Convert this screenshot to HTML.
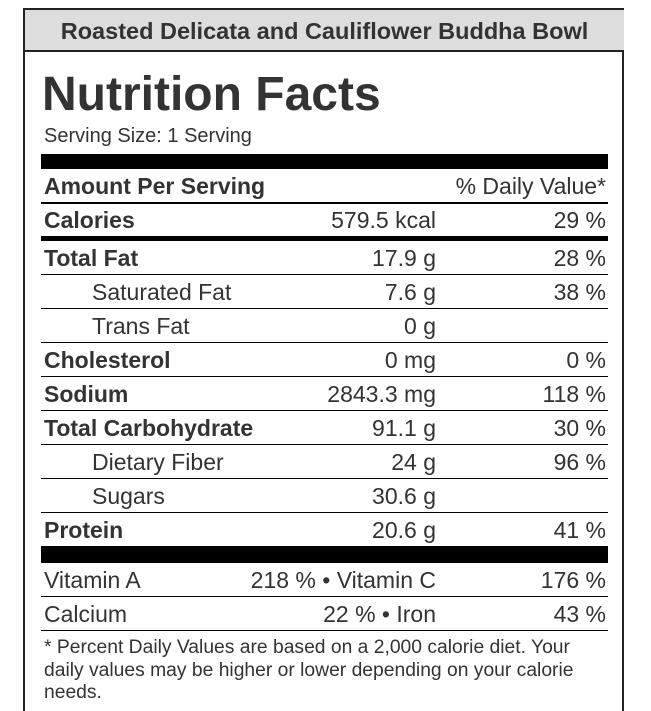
<!DOCTYPE html>
<html><head><style>
html,body{margin:0;width:651px;height:711px;overflow:hidden}
body{background:#fff;font-family:"Liberation Sans",Arial,sans-serif;color:#333;position:relative}
.box{position:absolute;left:23px;top:8px;width:601px;height:720px;border:2px solid #222;box-sizing:border-box}
.title{position:absolute;left:25px;top:10px;width:599px;height:40px;background:#ddd;border-bottom:2px solid #222;font-weight:bold;font-size:23.5px;text-align:center;line-height:42px}
.abs{position:absolute}
.bar{position:absolute;left:41px;width:567px;background:#000}
.line{position:absolute;left:41px;width:567px;height:1px;background:#000}
.row{position:absolute;left:44px;width:562px;height:34px;font-size:23px;line-height:34px}
.row .n{position:absolute;left:0}
.row .a{position:absolute;right:170px}
.row .p{position:absolute;right:0}
.b{font-weight:bold}
.i{padding-left:48px}
</style></head><body>
<div class="box"></div>
<div class="title">Roasted Delicata and Cauliflower Buddha Bowl</div>
<div class="abs b" style="left:42px;top:68px;font-size:48px;line-height:54px">Nutrition Facts</div>
<div class="abs" style="left:44px;top:124px;font-size:20px;line-height:24px">Serving Size: 1 Serving</div>
<div class="bar" style="top:154px;height:15px"></div>
<div class="row" style="top:169px"><span class="n b">Amount Per Serving</span><span class="p">% Daily Value*</span></div>
<div class="line" style="top:202px;height:2px"></div>
<div class="row" style="top:203px"><span class="n b">Calories</span><span class="a">579.5 kcal</span><span class="p">29 %</span></div>
<div class="bar" style="top:236px;height:5px"></div>
<div class="row" style="top:241px"><span class="n b">Total Fat</span><span class="a">17.9 g</span><span class="p">28 %</span></div>
<div class="line" style="top:274px"></div>
<div class="row" style="top:275px"><span class="n i">Saturated Fat</span><span class="a">7.6 g</span><span class="p">38 %</span></div>
<div class="line" style="top:308px"></div>
<div class="row" style="top:309px"><span class="n i">Trans Fat</span><span class="a">0 g</span></div>
<div class="line" style="top:342px"></div>
<div class="row" style="top:343px"><span class="n b">Cholesterol</span><span class="a">0 mg</span><span class="p">0 %</span></div>
<div class="line" style="top:376px"></div>
<div class="row" style="top:377px"><span class="n b">Sodium</span><span class="a">2843.3 mg</span><span class="p">118 %</span></div>
<div class="line" style="top:410px"></div>
<div class="row" style="top:411px"><span class="n b">Total Carbohydrate</span><span class="a">91.1 g</span><span class="p">30 %</span></div>
<div class="line" style="top:444px"></div>
<div class="row" style="top:445px"><span class="n i">Dietary Fiber</span><span class="a">24 g</span><span class="p">96 %</span></div>
<div class="line" style="top:478px"></div>
<div class="row" style="top:479px"><span class="n i">Sugars</span><span class="a">30.6 g</span></div>
<div class="line" style="top:512px"></div>
<div class="row" style="top:513px"><span class="n b">Protein</span><span class="a">20.6 g</span><span class="p">41 %</span></div>
<div class="bar" style="top:546px;height:17px"></div>
<div class="row" style="top:563px"><span class="n">Vitamin A</span><span class="a">218 % • Vitamin C</span><span class="p">176 %</span></div>
<div class="line" style="top:596px"></div>
<div class="row" style="top:597px"><span class="n">Calcium</span><span class="a">22 % • Iron</span><span class="p">43 %</span></div>
<div class="line" style="top:630px"></div>
<div class="abs" style="left:44px;top:637px;width:555px;font-size:19.3px;line-height:22.5px">* Percent Daily Values are based on a 2,000 calorie diet. Your daily values may be higher or lower depending on your calorie needs.</div>
</body></html>
